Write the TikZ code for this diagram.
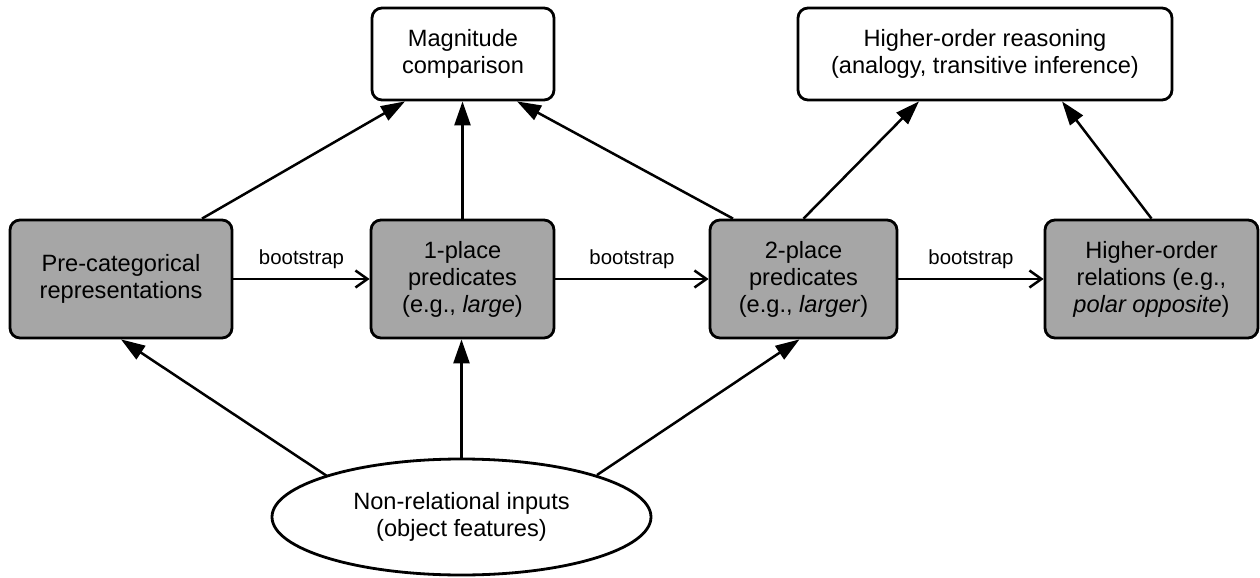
\documentclass[tikz,border=0pt]{standalone}
\usepackage{fontspec}
\setmainfont{Liberation Sans}
\usetikzlibrary{arrows.meta,calc,shapes.geometric}
\definecolor{boxgray}{RGB}{166,166,166}

\begin{document}
\begin{tikzpicture}[x=0.5pt,y=-0.5pt,
  box/.style={draw=black, line width=1.4pt, rounded corners=5pt, align=center,
    inner sep=0pt, font=\fontsize{11.8}{13.5}\selectfont},
  concept/.style={box, fill=boxgray, minimum height=59pt},
  outcome/.style={box, fill=white, minimum height=46pt},
  source/.style={draw=black, line width=1.4pt, ellipse, align=center, inner sep=0pt,
    minimum width=189.5pt, minimum height=58pt, font=\fontsize{11.8}{13.5}\selectfont},
  link/.style={line width=1.25pt, -{Triangle[length=12pt,width=8pt]}},
  boot/.style={line width=1.25pt, -{Straight Barb[length=6pt,width=8.5pt]}},
  bootlabel/.style={font=\fontsize{10.2}{12}\selectfont, inner sep=0pt, midway, yshift=10pt}
]
\useasboundingbox (0,0) rectangle (1260,578);

% representational stages
\node[concept, minimum width=111pt]   (pre) at (121,279)    {Pre-categorical\\representations};
\node[concept, minimum width=91.5pt]  (one) at (462.5,279)  {1-place\\predicates\\(e.g., \textit{large})};
\node[concept, minimum width=93.5pt]  (two) at (803.5,279)  {2-place\\predicates\\(e.g., \textit{larger})};
\node[concept, minimum width=106.5pt] (hrel) at (1151.5,279) {Higher-order\\relations (e.g.,\\\textit{polar opposite})};

% tasks supported
\node[outcome, minimum width=91pt]  (mag) at (463,54) {Magnitude\\comparison};
\node[outcome, minimum width=187pt] (reason) at (985,54) {Higher-order reasoning\\(analogy, transitive inference)};

% input
\node[source] (inputs) at (461.5,517) {Non-relational inputs\\(object features)};

% bootstrapping chain
\draw[boot] (pre.east) -- node[bootlabel] (b1) {bootstrap} (one.west);
\draw[boot] (one.east) -- node[bootlabel] (b2) {bootstrap} (two.west);
\draw[boot] (two.east) -- node[bootlabel] (b3) {bootstrap} (hrel.west);

% stages to tasks
\draw[link] ($(pre.north)+(81,0)$) -- ($(mag.south)+(-58,0)$);
\draw[link] (one.north) -- (one.north |- mag.south);
\draw[link] ($(two.north)+(-70.5,0)$) -- ($(mag.south)+(54,0)$);
\draw[link] (two.north) -- ($(reason.south)+(-66,0)$);
\draw[link] (hrel.north) -- ($(reason.south)+(77,0)$);

% inputs to stages
\draw[link] ($(inputs.center)+(-134.5,-41)$) -- (pre.south);
\draw[link] (inputs.north) -- (inputs.north |- one.south);
\draw[link] ($(inputs.center)+(135.5,-42)$) -- ($(two.south)+(-4,0)$);
\end{tikzpicture}
\end{document}
